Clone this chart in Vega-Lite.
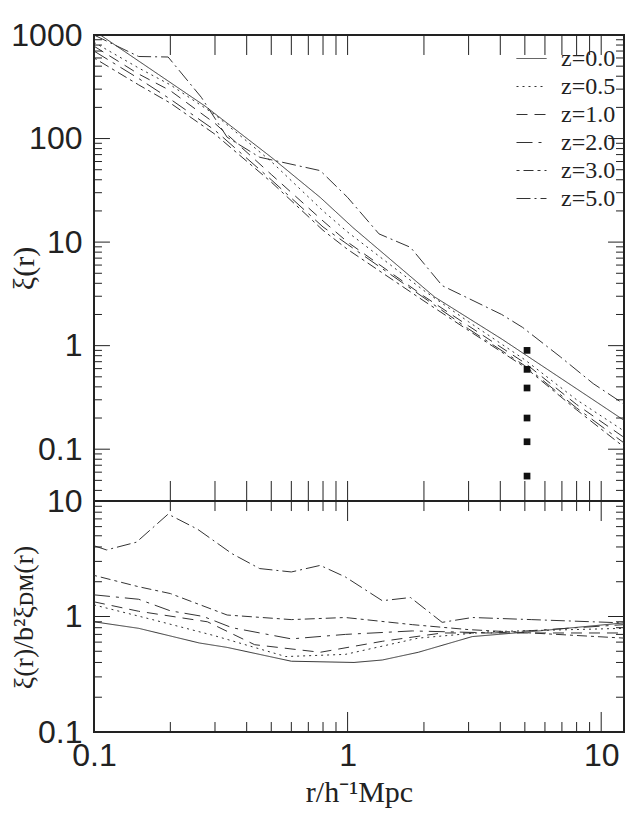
{
  "$schema": "https://vega.github.io/schema/vega-lite/v6.json",
  "padding": {"left": 8, "top": 18, "right": 1, "bottom": 0},
  "bounds": "flush",
  "datasets": {
    "top": [
      {"z": "z=0.0", "r": 0.1, "xi": 1100}, {"z": "z=0.0", "r": 0.274, "xi": 206}, {"z": "z=0.0", "r": 0.5, "xi": 66}, {"z": "z=0.0", "r": 0.78, "xi": 27}, {"z": "z=0.0", "r": 1.05, "xi": 13.8}, {"z": "z=0.0", "r": 2.2, "xi": 2.96}, {"z": "z=0.0", "r": 4.05, "xi": 1.16}, {"z": "z=0.0", "r": 9.3, "xi": 0.3}, {"z": "z=0.0", "r": 12.3, "xi": 0.19},
      {"z": "z=0.5", "r": 0.1, "xi": 850}, {"z": "z=0.5", "r": 0.15, "xi": 480}, {"z": "z=0.5", "r": 0.2, "xi": 330}, {"z": "z=0.5", "r": 0.3, "xi": 170}, {"z": "z=0.5", "r": 0.5, "xi": 60}, {"z": "z=0.5", "r": 0.8, "xi": 20}, {"z": "z=0.5", "r": 1, "xi": 12.5}, {"z": "z=0.5", "r": 2, "xi": 3.4}, {"z": "z=0.5", "r": 3, "xi": 1.7}, {"z": "z=0.5", "r": 5, "xi": 0.73}, {"z": "z=0.5", "r": 8, "xi": 0.3}, {"z": "z=0.5", "r": 12.3, "xi": 0.15},
      {"z": "z=1.0", "r": 0.1, "xi": 780}, {"z": "z=1.0", "r": 0.15, "xi": 420}, {"z": "z=1.0", "r": 0.2, "xi": 290}, {"z": "z=1.0", "r": 0.3, "xi": 140}, {"z": "z=1.0", "r": 0.5, "xi": 45}, {"z": "z=1.0", "r": 0.8, "xi": 16}, {"z": "z=1.0", "r": 1, "xi": 10}, {"z": "z=1.0", "r": 2, "xi": 3.0}, {"z": "z=1.0", "r": 3, "xi": 1.55}, {"z": "z=1.0", "r": 5, "xi": 0.68}, {"z": "z=1.0", "r": 8, "xi": 0.27}, {"z": "z=1.0", "r": 12.3, "xi": 0.13},
      {"z": "z=2.0", "r": 0.1, "xi": 700}, {"z": "z=2.0", "r": 0.15, "xi": 380}, {"z": "z=2.0", "r": 0.2, "xi": 240}, {"z": "z=2.0", "r": 0.3, "xi": 120}, {"z": "z=2.0", "r": 0.5, "xi": 40}, {"z": "z=2.0", "r": 0.8, "xi": 14}, {"z": "z=2.0", "r": 1, "xi": 9.5}, {"z": "z=2.0", "r": 2, "xi": 2.9}, {"z": "z=2.0", "r": 3, "xi": 1.45}, {"z": "z=2.0", "r": 5, "xi": 0.64}, {"z": "z=2.0", "r": 8, "xi": 0.25}, {"z": "z=2.0", "r": 12.3, "xi": 0.115},
      {"z": "z=3.0", "r": 0.1, "xi": 600}, {"z": "z=3.0", "r": 0.15, "xi": 330}, {"z": "z=3.0", "r": 0.2, "xi": 220}, {"z": "z=3.0", "r": 0.3, "xi": 110}, {"z": "z=3.0", "r": 0.5, "xi": 38}, {"z": "z=3.0", "r": 0.8, "xi": 13}, {"z": "z=3.0", "r": 1, "xi": 8.5}, {"z": "z=3.0", "r": 2, "xi": 2.7}, {"z": "z=3.0", "r": 3, "xi": 1.4}, {"z": "z=3.0", "r": 5, "xi": 0.62}, {"z": "z=3.0", "r": 8, "xi": 0.24}, {"z": "z=3.0", "r": 12.3, "xi": 0.105},
      {"z": "z=5.0", "r": 0.1, "xi": 1000}, {"z": "z=5.0", "r": 0.15, "xi": 620}, {"z": "z=5.0", "r": 0.196, "xi": 613}, {"z": "z=5.0", "r": 0.265, "xi": 250}, {"z": "z=5.0", "r": 0.335, "xi": 103}, {"z": "z=5.0", "r": 0.45, "xi": 66}, {"z": "z=5.0", "r": 0.78, "xi": 49}, {"z": "z=5.0", "r": 1, "xi": 27}, {"z": "z=5.0", "r": 1.33, "xi": 12}, {"z": "z=5.0", "r": 1.77, "xi": 8.9}, {"z": "z=5.0", "r": 2.36, "xi": 3.8}, {"z": "z=5.0", "r": 4.05, "xi": 2.0}, {"z": "z=5.0", "r": 4.9, "xi": 1.5}, {"z": "z=5.0", "r": 6.9, "xi": 0.78}, {"z": "z=5.0", "r": 9.3, "xi": 0.43}, {"z": "z=5.0", "r": 11.6, "xi": 0.3}, {"z": "z=5.0", "r": 12.3, "xi": 0.27}
    ],
    "bottom": [
      {"z": "z=0.0", "r": 0.1, "b": 0.9}, {"z": "z=0.0", "r": 0.15, "b": 0.79}, {"z": "z=0.0", "r": 0.26, "b": 0.59}, {"z": "z=0.0", "r": 0.335, "b": 0.54}, {"z": "z=0.0", "r": 0.6, "b": 0.41}, {"z": "z=0.0", "r": 1.06, "b": 0.4}, {"z": "z=0.0", "r": 1.37, "b": 0.42}, {"z": "z=0.0", "r": 1.9, "b": 0.49}, {"z": "z=0.0", "r": 3.1, "b": 0.67}, {"z": "z=0.0", "r": 5.3, "b": 0.74}, {"z": "z=0.0", "r": 12.3, "b": 0.88},
      {"z": "z=0.5", "r": 0.1, "b": 1.26}, {"z": "z=0.5", "r": 0.17, "b": 0.94}, {"z": "z=0.5", "r": 0.3, "b": 0.68}, {"z": "z=0.5", "r": 0.57, "b": 0.45}, {"z": "z=0.5", "r": 0.98, "b": 0.47}, {"z": "z=0.5", "r": 1.9, "b": 0.65}, {"z": "z=0.5", "r": 3.7, "b": 0.74}, {"z": "z=0.5", "r": 12.3, "b": 0.79},
      {"z": "z=1.0", "r": 0.1, "b": 1.34}, {"z": "z=1.0", "r": 0.15, "b": 1.11}, {"z": "z=1.0", "r": 0.28, "b": 0.9}, {"z": "z=1.0", "r": 0.43, "b": 0.57}, {"z": "z=1.0", "r": 0.78, "b": 0.49}, {"z": "z=1.0", "r": 1.37, "b": 0.61}, {"z": "z=1.0", "r": 2.36, "b": 0.72}, {"z": "z=1.0", "r": 5.3, "b": 0.72}, {"z": "z=1.0", "r": 12.3, "b": 0.72},
      {"z": "z=2.0", "r": 0.1, "b": 1.54}, {"z": "z=2.0", "r": 0.15, "b": 1.41}, {"z": "z=2.0", "r": 0.2, "b": 1.12}, {"z": "z=2.0", "r": 0.27, "b": 1.0}, {"z": "z=2.0", "r": 0.35, "b": 0.8}, {"z": "z=2.0", "r": 0.6, "b": 0.64}, {"z": "z=2.0", "r": 0.98, "b": 0.7}, {"z": "z=2.0", "r": 1.8, "b": 0.75}, {"z": "z=2.0", "r": 3.8, "b": 0.72}, {"z": "z=2.0", "r": 12.3, "b": 0.85},
      {"z": "z=3.0", "r": 0.1, "b": 2.27}, {"z": "z=3.0", "r": 0.15, "b": 1.81}, {"z": "z=3.0", "r": 0.2, "b": 1.58}, {"z": "z=3.0", "r": 0.335, "b": 1.03}, {"z": "z=3.0", "r": 0.6, "b": 0.94}, {"z": "z=3.0", "r": 0.98, "b": 0.98}, {"z": "z=3.0", "r": 1.8, "b": 0.85}, {"z": "z=3.0", "r": 3.0, "b": 0.77}, {"z": "z=3.0", "r": 5.3, "b": 0.72}, {"z": "z=3.0", "r": 12.3, "b": 0.65},
      {"z": "z=5.0", "r": 0.1, "b": 4.1}, {"z": "z=5.0", "r": 0.112, "b": 3.77}, {"z": "z=5.0", "r": 0.147, "b": 4.4}, {"z": "z=5.0", "r": 0.196, "b": 7.7}, {"z": "z=5.0", "r": 0.256, "b": 5.7}, {"z": "z=5.0", "r": 0.35, "b": 3.5}, {"z": "z=5.0", "r": 0.45, "b": 2.6}, {"z": "z=5.0", "r": 0.6, "b": 2.43}, {"z": "z=5.0", "r": 0.78, "b": 2.77}, {"z": "z=5.0", "r": 0.98, "b": 2.2}, {"z": "z=5.0", "r": 1.37, "b": 1.37}, {"z": "z=5.0", "r": 1.77, "b": 1.46}, {"z": "z=5.0", "r": 2.36, "b": 0.89}, {"z": "z=5.0", "r": 3.1, "b": 0.98}, {"z": "z=5.0", "r": 5.3, "b": 0.94}, {"z": "z=5.0", "r": 12.3, "b": 0.88}
    ],
    "squares": [
      {"r": 5.1, "xi": 0.9}, {"r": 5.1, "xi": 0.59}, {"r": 5.1, "xi": 0.39}, {"r": 5.1, "xi": 0.2}, {"r": 5.1, "xi": 0.118}, {"r": 5.1, "xi": 0.055}
    ],
    "xticks": [
      {"v": 0.1, "major": true}, {"v": 0.2, "major": false}, {"v": 0.3, "major": false}, {"v": 0.4, "major": false}, {"v": 0.5, "major": false}, {"v": 0.6, "major": false}, {"v": 0.7, "major": false}, {"v": 0.8, "major": false}, {"v": 0.9, "major": false},
      {"v": 1, "major": true}, {"v": 2, "major": false}, {"v": 3, "major": false}, {"v": 4, "major": false}, {"v": 5, "major": false}, {"v": 6, "major": false}, {"v": 7, "major": false}, {"v": 8, "major": false}, {"v": 9, "major": false}, {"v": 10, "major": true}
    ],
    "ytop": [
      {"v": 0.04, "major": false}, {"v": 0.05, "major": false}, {"v": 0.06, "major": false}, {"v": 0.07, "major": false}, {"v": 0.08, "major": false}, {"v": 0.09, "major": false},
      {"v": 0.1, "major": true}, {"v": 0.2, "major": false}, {"v": 0.3, "major": false}, {"v": 0.4, "major": false}, {"v": 0.5, "major": false}, {"v": 0.6, "major": false}, {"v": 0.7, "major": false}, {"v": 0.8, "major": false}, {"v": 0.9, "major": false},
      {"v": 1, "major": true}, {"v": 2, "major": false}, {"v": 3, "major": false}, {"v": 4, "major": false}, {"v": 5, "major": false}, {"v": 6, "major": false}, {"v": 7, "major": false}, {"v": 8, "major": false}, {"v": 9, "major": false},
      {"v": 10, "major": true}, {"v": 20, "major": false}, {"v": 30, "major": false}, {"v": 40, "major": false}, {"v": 50, "major": false}, {"v": 60, "major": false}, {"v": 70, "major": false}, {"v": 80, "major": false}, {"v": 90, "major": false},
      {"v": 100, "major": true}, {"v": 200, "major": false}, {"v": 300, "major": false}, {"v": 400, "major": false}, {"v": 500, "major": false}, {"v": 600, "major": false}, {"v": 700, "major": false}, {"v": 800, "major": false}, {"v": 900, "major": false}, {"v": 1000, "major": true}
    ],
    "ybottom": [
      {"v": 0.1, "major": true}, {"v": 0.2, "major": false}, {"v": 0.3, "major": false}, {"v": 0.4, "major": false}, {"v": 0.5, "major": false}, {"v": 0.6, "major": false}, {"v": 0.7, "major": false}, {"v": 0.8, "major": false}, {"v": 0.9, "major": false},
      {"v": 1, "major": true}, {"v": 2, "major": false}, {"v": 3, "major": false}, {"v": 4, "major": false}, {"v": 5, "major": false}, {"v": 6, "major": false}, {"v": 7, "major": false}, {"v": 8, "major": false}, {"v": 9, "major": false}, {"v": 10, "major": true}
    ]
  },
  "vconcat": [
    {
      "width": 530,
      "height": 466,
      "data": {"name": "top"},
      "layer": [
        {
          "mark": {"type": "line", "color": "#333", "strokeWidth": 1, "clip": true},
          "encoding": {
            "x": {"field": "r", "type": "quantitative", "scale": {"type": "log", "domain": [0.1, 12.3], "nice": false}, "axis": null},
            "y": {"field": "xi", "type": "quantitative", "scale": {"type": "log", "domain": [0.0316, 1000], "nice": false},
              "axis": {"orient": "left", "values": [0.1, 1, 10, 100, 1000], "format": "~g", "ticks": false, "domain": false, "grid": false, "labelFontSize": 32, "labelPadding": 12, "title": "ξ(r)", "titleFontSize": 30, "titleFontWeight": "normal", "titleX": -70, "titleY": 233, "titleAlign": "center", "titleBaseline": "middle"}},
            "strokeDash": {"field": "z", "type": "nominal",
              "scale": {"domain": ["z=0.0", "z=0.5", "z=1.0", "z=2.0", "z=3.0", "z=5.0"], "range": [[1, 0], [2, 4], [11, 7], [16, 6, 3, 6], [3, 4, 10, 4], [14, 4, 2, 4]]},
              "legend": {"title": null, "orient": "top-right", "offset": 8, "symbolType": "stroke", "symbolSize": 900, "symbolStrokeWidth": 1, "symbolStrokeColor": "#333", "labelFontSize": 24, "labelOffset": 14, "rowPadding": -3, "padding": 0, "labelFont": "Liberation Serif"}}
          }
        },
        {
          "data": {"name": "squares"},
          "mark": {"type": "square", "filled": true, "color": "#111", "size": 45, "opacity": 1},
          "encoding": {
            "x": {"field": "r", "type": "quantitative"},
            "y": {"field": "xi", "type": "quantitative"}
          }
        },
        {
          "data": {"name": "xticks"},
          "mark": {"type": "rule", "color": "#222", "strokeWidth": 1},
          "encoding": {
            "x": {"field": "v", "type": "quantitative"},
            "y": {"datum": 0.0316, "type": "quantitative"},
            "y2": {"datum": 0.0493}
          }
        },
        {
          "data": {"name": "xticks"},
          "mark": {"type": "rule", "color": "#222", "strokeWidth": 1},
          "encoding": {
            "x": {"field": "v", "type": "quantitative"},
            "y": {"datum": 641, "type": "quantitative"},
            "y2": {"datum": 1000}
          }
        },
        {
          "data": {"name": "ytop"},
          "transform": [{"filter": "datum.major"}],
          "mark": {"type": "rule", "color": "#222", "strokeWidth": 1},
          "encoding": {
            "y": {"field": "v", "type": "quantitative"},
            "x": {"datum": 0.1, "type": "quantitative"},
            "x2": {"datum": 0.1156}
          }
        },
        {
          "data": {"name": "ytop"},
          "transform": [{"filter": "!datum.major"}],
          "mark": {"type": "rule", "color": "#222", "strokeWidth": 1},
          "encoding": {
            "y": {"field": "v", "type": "quantitative"},
            "x": {"datum": 0.1, "type": "quantitative"},
            "x2": {"datum": 0.1075}
          }
        },
        {
          "data": {"name": "ytop"},
          "transform": [{"filter": "datum.major"}],
          "mark": {"type": "rule", "color": "#222", "strokeWidth": 1},
          "encoding": {
            "y": {"field": "v", "type": "quantitative"},
            "x": {"datum": 10.64, "type": "quantitative"},
            "x2": {"datum": 12.3}
          }
        },
        {
          "data": {"name": "ytop"},
          "transform": [{"filter": "!datum.major"}],
          "mark": {"type": "rule", "color": "#222", "strokeWidth": 1},
          "encoding": {
            "y": {"field": "v", "type": "quantitative"},
            "x": {"datum": 11.44, "type": "quantitative"},
            "x2": {"datum": 12.3}
          }
        }
      ]
    },
    {
      "width": 530,
      "height": 231,
      "data": {"name": "bottom"},
      "layer": [
        {
          "mark": {"type": "line", "color": "#333", "strokeWidth": 1, "clip": true},
          "encoding": {
            "x": {"field": "r", "type": "quantitative", "scale": {"type": "log", "domain": [0.1, 12.3], "nice": false},
              "axis": {"orient": "bottom", "values": [0.1, 1, 10], "format": "~g", "ticks": false, "domain": false, "grid": false, "labelFontSize": 32, "labelPadding": 8, "labelFlush": false, "title": "r/h⁻¹Mpc", "titleFontSize": 30, "titleFontWeight": "normal", "titlePadding": 6}},
            "y": {"field": "b", "type": "quantitative", "scale": {"type": "log", "domain": [0.1, 10], "nice": false},
              "axis": {"orient": "left", "values": [0.1, 1, 10], "format": "~g", "ticks": false, "domain": false, "grid": false, "labelFontSize": 32, "labelPadding": 12, "title": "ξ(r)/b²ξᴅᴍ(r)", "titleFontSize": 28, "titleFontWeight": "normal", "titleX": -70, "titleY": 116, "titleAlign": "center", "titleBaseline": "middle"}},
            "strokeDash": {"field": "z", "type": "nominal",
              "scale": {"domain": ["z=0.0", "z=0.5", "z=1.0", "z=2.0", "z=3.0", "z=5.0"], "range": [[1, 0], [2, 4], [11, 7], [16, 6, 3, 6], [3, 4, 10, 4], [14, 4, 2, 4]]},
              "legend": null}
          }
        },
        {
          "data": {"name": "xticks"},
          "transform": [{"filter": "datum.major"}],
          "mark": {"type": "rule", "color": "#222", "strokeWidth": 1},
          "encoding": {
            "x": {"field": "v", "type": "quantitative"},
            "y": {"datum": 0.1, "type": "quantitative"},
            "y2": {"datum": 0.149}
          }
        },
        {
          "data": {"name": "xticks"},
          "transform": [{"filter": "!datum.major"}],
          "mark": {"type": "rule", "color": "#222", "strokeWidth": 1},
          "encoding": {
            "x": {"field": "v", "type": "quantitative"},
            "y": {"datum": 0.1, "type": "quantitative"},
            "y2": {"datum": 0.122}
          }
        },
        {
          "data": {"name": "xticks"},
          "transform": [{"filter": "datum.major"}],
          "mark": {"type": "rule", "color": "#222", "strokeWidth": 1},
          "encoding": {
            "x": {"field": "v", "type": "quantitative"},
            "y": {"datum": 6.71, "type": "quantitative"},
            "y2": {"datum": 10}
          }
        },
        {
          "data": {"name": "xticks"},
          "transform": [{"filter": "!datum.major"}],
          "mark": {"type": "rule", "color": "#222", "strokeWidth": 1},
          "encoding": {
            "x": {"field": "v", "type": "quantitative"},
            "y": {"datum": 8.19, "type": "quantitative"},
            "y2": {"datum": 10}
          }
        },
        {
          "data": {"name": "ybottom"},
          "transform": [{"filter": "datum.major"}],
          "mark": {"type": "rule", "color": "#222", "strokeWidth": 1},
          "encoding": {
            "y": {"field": "v", "type": "quantitative"},
            "x": {"datum": 0.1, "type": "quantitative"},
            "x2": {"datum": 0.1156}
          }
        },
        {
          "data": {"name": "ybottom"},
          "transform": [{"filter": "!datum.major"}],
          "mark": {"type": "rule", "color": "#222", "strokeWidth": 1},
          "encoding": {
            "y": {"field": "v", "type": "quantitative"},
            "x": {"datum": 0.1, "type": "quantitative"},
            "x2": {"datum": 0.1075}
          }
        },
        {
          "data": {"name": "ybottom"},
          "transform": [{"filter": "datum.major"}],
          "mark": {"type": "rule", "color": "#222", "strokeWidth": 1},
          "encoding": {
            "y": {"field": "v", "type": "quantitative"},
            "x": {"datum": 10.64, "type": "quantitative"},
            "x2": {"datum": 12.3}
          }
        },
        {
          "data": {"name": "ybottom"},
          "transform": [{"filter": "!datum.major"}],
          "mark": {"type": "rule", "color": "#222", "strokeWidth": 1},
          "encoding": {
            "y": {"field": "v", "type": "quantitative"},
            "x": {"datum": 11.44, "type": "quantitative"},
            "x2": {"datum": 12.3}
          }
        }
      ]
    }
  ],
  "spacing": 0,
  "config": {
    "font": "Liberation Sans",
    "view": {"stroke": "#222", "strokeWidth": 2},
    "axis": {"labelColor": "#222", "titleColor": "#222", "labelFont": "Liberation Sans", "titleFont": "Liberation Serif"},
    "legend": {"labelColor": "#222"}
  }
}
